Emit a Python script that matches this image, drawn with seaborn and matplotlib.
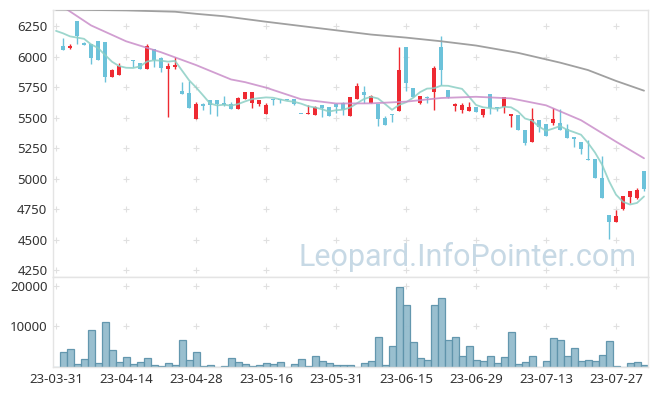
import numpy as np
import pandas as pd
import seaborn as sns
import matplotlib.pyplot as plt

# OHLC per trading day, index 0 = 23-03-31 (nan = no candle drawn)
nan = np.nan
open_ = [nan, 6085, 6072, 6290, 6110, 6100, 6130, 6120, 5835, 5845,
         5910, 5968, 5945, 5900, 6060, 5990, 5900, 5915, 5718, 5700,
         5490, 5612, 5640, 5641, 5620, 5610, 5572, 5655, 5620, 5612,
         5532, 5652, 5650, 5648, 5650, 5532, 5527, 5518, 5600, 5586,
         5613, 5621, 5515, 5652, 5708, 5621, 5610, 5495, 5526, 5556,
         6078, 5742, 5616, 5670, 5712, 6080, 5725, 5597, 5562, 5551,
         5586, 5520, 5693, 5583, 5584, 5512, 5520, 5397, 5302, 5480,
         5447, 5452, 5452, 5408, 5340, 5299, 5163, 5160, 5004, 4700,
         4646, 4747, 4848, 4838, 5061]
high = [nan, 6150, 6100, 6295, 6115, 6100, 6130, 6120, 5900, 5945,
        5910, 5971, 5950, 6100, 6065, 5995, 5945, 5995, 5790, 5800,
        5625, 5615, 5645, 5645, 5675, 5625, 5670, 5712, 5712, 5645,
        5620, 5655, 5652, 5650, 5652, 5532, 5600, 5595, 5602, 5590,
        5615, 5625, 5670, 5785, 5758, 5682, 5612, 5515, 5528, 6075,
        6080, 5745, 5678, 5680, 5922, 6168, 5727, 5621, 5621, 5628,
        5590, 5572, 5695, 5585, 5670, 5531, 5522, 5400, 5575, 5482,
        5450, 5578, 5570, 5445, 5342, 5301, 5318, 5162, 5187, 4702,
        4740, 4859, 4899, 4922, 5063]
low = [nan, 6055, 6060, 6100, 6095, 5935, 5975, 5790, 5835, 5845,
       5910, 5916, 5895, 5900, 5915, 5870, 5505, 5895, 5695, 5575,
       5490, 5565, 5525, 5515, 5597, 5570, 5572, 5655, 5580, 5597,
       5532, 5603, 5615, 5643, 5606, 5530, 5527, 5518, 5507, 5510,
       5535, 5520, 5515, 5650, 5620, 5621, 5430, 5442, 5463, 5556,
       5717, 5670, 5614, 5620, 5560, 5766, 5663, 5556, 5540, 5551,
       5546, 5507, 5530, 5555, 5534, 5425, 5395, 5277, 5300, 5380,
       5350, 5441, 5400, 5333, 5261, 5200, 5153, 5002, 4843, 4502,
       4646, 4745, 4802, 4836, 4900]
close = [nan, 6055, 6089, 6170, 6097, 5990, 5975, 5835, 5890, 5920,
         5910, 5963, 5900, 6090, 5970, 5905, 5925, 5932, 5695, 5575,
         5610, 5597, 5600, 5613, 5605, 5572, 5660, 5710, 5710, 5643,
         5603, 5645, 5643, 5645, 5608, 5530, 5540, 5585, 5576, 5515,
         5585, 5561, 5668, 5758, 5688, 5676, 5490, 5442, 5518, 5889,
         5785, 5671, 5676, 5662, 5906, 5890, 5665, 5613, 5603, 5586,
         5548, 5570, 5580, 5575, 5668, 5529, 5397, 5293, 5488, 5425,
         5351, 5488, 5400, 5335, 5326, 5245, 5155, 5004, 4843, 4646,
         4693, 4857, 4897, 4908, 4912]
volume = [0, 3630, 4350, 730, 1940, 9190, 970, 11130, 4110, 1210,
          2420, 730, 1210, 2180, 480, 240, 970, 480, 6530, 1690,
          3630, 240, 480, 0, 240, 2180, 1210, 730, 240, 480,
          970, 730, 1210, 0, 730, 1940, 240, 2660, 1450, 970,
          480, 480, 480, 0, 970, 1450, 7500, 480, 5080, 19600,
          15240, 6050, 2180, 1690, 15240, 16940, 6530, 7500, 2660, 5080,
          1690, 1450, 2660, 970, 2420, 8710, 730, 1210, 2660, 0,
          1450, 7020, 6530, 2660, 4600, 1450, 1690, 1450, 2900, 6290,
          240, 0, 970, 1210, 480]

# moving average lines
ma5 = [6210, 6190, 6165, 6155, 6145, 6100, 6070, 6013, 5957, 5922,
       5908, 5906, 5919, 5959, 5969, 5966, 5958, 5964, 5885, 5806,
       5747, 5682, 5615, 5599, 5605, 5597, 5610, 5632, 5651, 5659,
       5665, 5662, 5649, 5636, 5629, 5614, 5593, 5582, 5568, 5549,
       5560, 5564, 5581, 5617, 5652, 5670, 5656, 5611, 5563, 5603,
       5625, 5661, 5708, 5737, 5740, 5761, 5760, 5747, 5735, 5671,
       5603, 5584, 5577, 5572, 5588, 5584, 5550, 5492, 5475, 5426,
       5391, 5409, 5430, 5400, 5380, 5359, 5292, 5213, 5115, 4979,
       4868, 4809, 4787, 4800, 4853]
ma20_idx = [0, 5, 10, 15, 20, 25, 27, 30, 35, 40, 45, 50, 55, 60, 65, 70, 75, 80, 84]
ma20 = [6445, 6255, 6125, 6035, 5930, 5812, 5790, 5745, 5650, 5615,
        5616, 5630, 5660, 5670, 5657, 5600, 5478, 5302, 5166]
ma60_idx = [0, 10, 17, 20, 24, 30, 40, 45, 50, 55, 60, 66, 72, 76, 80, 84]
ma60 = [6385, 6378, 6367, 6350, 6330, 6285, 6215, 6180, 6155, 6125,
        6090, 6030, 5950, 5889, 5800, 5720]

tick_labels = ['23-03-31', '23-04-14', '23-04-28', '23-05-16', '23-05-31',
               '23-06-15', '23-06-29', '23-07-13', '23-07-27']
price_ticks = [4250, 4500, 4750, 5000, 5250, 5500, 5750, 6000, 6250]
vol_ticks = [10000, 20000]

df = pd.DataFrame({'open': open_, 'high': high, 'low': low,
                   'close': close, 'volume': volume})
df['idx'] = np.arange(len(df))
cd = df.dropna()

sns.set_theme(style='white')
plt.rcParams['font.family'] = ['Noto Sans', 'DejaVu Sans']

UP = '#ee2a32'
DOWN = '#6cc2da'
GRID = '#e0e0e0'
SPINE = '#e4e4e4'

fig = plt.figure(figsize=(6.57, 3.96), dpi=100)
ax = fig.add_axes([0.0807, 0.3005, 0.9056, 0.6742])
axv = fig.add_axes([0.0807, 0.0732, 0.9056, 0.2273])

# candles
colors = np.where(cd['close'] >= cd['open'], UP, DOWN)
ax.vlines(cd['idx'], cd['low'], cd['high'], colors=colors, lw=1, zorder=2)
body_lo = np.minimum(cd['open'], cd['close'])
body_h = np.maximum(np.abs(cd['close'] - cd['open']), 8)
ax.bar(cd['idx'], body_h, bottom=body_lo, width=0.68, color=colors,
       linewidth=0, zorder=3)

# moving averages
sns.lineplot(x=df['idx'], y=ma5, ax=ax, color='#8ccfc5', lw=1.3, alpha=0.85, zorder=4)
sns.lineplot(x=ma20_idx, y=ma20, ax=ax, color='#c98dc9', lw=1.3, alpha=0.85, zorder=4)
sns.lineplot(x=ma60_idx, y=ma60, ax=ax, color='#a0a0a0', lw=1.3, zorder=4)

# grid crosses
xt = np.arange(0, 81, 10)
gx, gy = np.meshgrid(xt, price_ticks)
ax.scatter(gx.ravel(), gy.ravel(), marker='+', s=14, color=GRID, lw=0.8, zorder=1)

ax.text(0.9815, 0.04, 'Leopard.InfoPointer.com', transform=ax.transAxes,
        ha='right', va='baseline', fontsize=22, color='#c7d9e5',
        family=['Roboto', 'DejaVu Sans'], zorder=0)

ax.set_xlim(-0.43, 84.57)
ax.set_ylim(4193, 6381)
ax.set_yticks(price_ticks)
ax.set_xticks([])
ax.set_xlabel('')
ax.set_ylabel('')

# volume
sns.barplot(x=df['idx'], y=df['volume'], ax=axv, color='#94bccd', saturation=1,
            width=1.0, edgecolor='#5e93ab', linewidth=0.9, alpha=0.95, zorder=2)
vx, vy = np.meshgrid(xt, vol_ticks)
axv.scatter(vx.ravel(), vy.ravel(), marker='+', s=14, color=GRID, lw=0.8, zorder=1)
axv.set_xlim(-0.43, 84.57)
axv.set_ylim(0, 22150)
axv.set_yticks(vol_ticks)
axv.set_xticks(xt)
axv.set_xticklabels(tick_labels)
axv.set_xlabel('')
axv.set_ylabel('')

for a in (ax, axv):
    for s in a.spines.values():
        s.set_color(SPINE)
        s.set_linewidth(1)
    a.tick_params(length=0, labelsize=9.5, colors='#333333', pad=4)
    a.grid(False)

fig.savefig('out.png', dpi=100)
